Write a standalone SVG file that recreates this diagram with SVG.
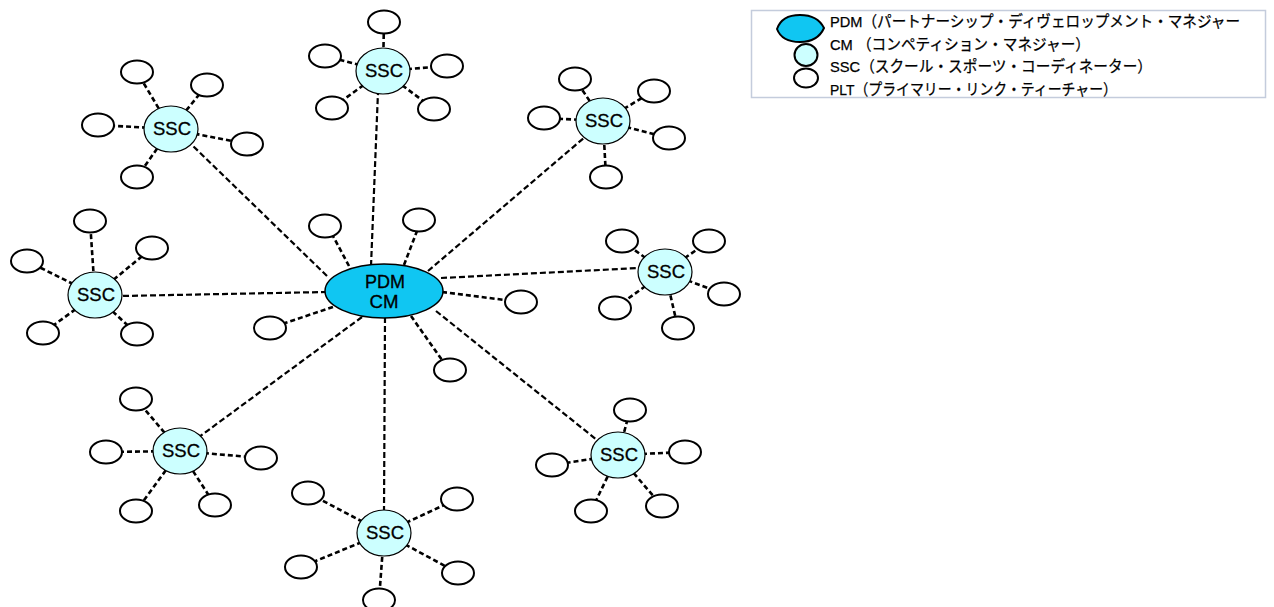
<svg xmlns="http://www.w3.org/2000/svg" width="1274" height="607" viewBox="0 0 1274 607">
<style>
.bg{fill:#ffffff}
.main{stroke:#000;stroke-width:2.2;stroke-dasharray:6 3;fill:none}
.sub{stroke:#000;stroke-width:2.6;stroke-dasharray:5 3;fill:none}
.pdm{fill:#10c6f2;stroke:#000;stroke-width:1.5}
.ssc{fill:#ccffff;stroke:#000;stroke-width:1.2}
.plt{fill:#ffffff;stroke:#000;stroke-width:2}
.lbl{font-family:"Liberation Sans",Arial,sans-serif;font-size:18px;fill:#000;stroke:#000;stroke-width:0.3;text-anchor:middle}
.leg{font-family:"Liberation Sans","Noto Sans CJK JP",sans-serif;font-size:15.5px;fill:#000;stroke:#000;stroke-width:0.25}
</style>
<rect class="bg" x="0" y="0" width="1274" height="607"/>
<g id="connectors">
  <line class="main" x1="371" y1="266" x2="378" y2="92"/>
  <line class="main" x1="327" y1="276" x2="192" y2="145"/>
  <line class="main" x1="428" y1="271" x2="585" y2="137"/>
  <line class="main" x1="327" y1="292" x2="121" y2="296"/>
  <line class="main" x1="441" y1="278" x2="639" y2="268"/>
  <line class="main" x1="362" y1="317" x2="199" y2="437"/>
  <line class="main" x1="436" y1="311" x2="597" y2="440"/>
  <line class="main" x1="385" y1="317" x2="384" y2="511"/>
  <line class="sub" x1="349" y1="266" x2="333" y2="236"/>
  <line class="sub" x1="404" y1="265" x2="417" y2="231"/>
  <line class="sub" x1="442" y1="292" x2="505" y2="300"/>
  <line class="sub" x1="411" y1="316" x2="442" y2="360"/>
  <line class="sub" x1="333" y1="307" x2="285" y2="323"/>
  <path class="sub" d="M383 71L384 22M383 71L325 56M383 71L447 66M383 71L332 108M383 71L434 109"/>
  <path class="sub" d="M171 129L137 72M171 129L207 85M171 129L98 125M171 129L247 144M171 129L137 177"/>
  <path class="sub" d="M603 121L575 79M603 121L654 91M603 121L544 118M603 121L669 138M603 121L606 177"/>
  <path class="sub" d="M95 295L90 221M95 295L27 261M95 295L152 248M95 295L43 333M95 295L137 334"/>
  <path class="sub" d="M665 272L622 241M665 272L709 241M665 272L615 308M665 272L724 294M665 272L678 328"/>
  <path class="sub" d="M180 451L136 399M180 451L106 452M180 451L261 458M180 451L136 511M180 451L215 505"/>
  <path class="sub" d="M618 455L630 410M618 455L552 465M618 455L685 452M618 455L591 511M618 455L662 506"/>
  <path class="sub" d="M384 533L308 493M384 533L457 499M384 533L301 567M384 533L458 573M384 533L379 600"/>
</g>
<g id="pdm">
  <ellipse class="pdm" cx="384" cy="291" rx="59" ry="27"/>
  <text class="lbl" x="385" y="288" textLength="40" lengthAdjust="spacingAndGlyphs">PDM</text>
  <text class="lbl" x="384" y="308" textLength="29" lengthAdjust="spacingAndGlyphs">CM</text>
</g>
<g id="pdm-plts">
  <ellipse class="plt" cx="325" cy="226" rx="16" ry="11.5"/>
  <ellipse class="plt" cx="419" cy="220" rx="16" ry="11.5"/>
  <ellipse class="plt" cx="521" cy="302" rx="16" ry="11.5"/>
  <ellipse class="plt" cx="450" cy="370" rx="16" ry="11.5"/>
  <ellipse class="plt" cx="270" cy="328" rx="16" ry="11.5"/>
</g>
<g id="ssc-top">
  <ellipse class="ssc" cx="383" cy="71" rx="27" ry="23"/>
  <text class="lbl" x="384" y="77" textLength="38" lengthAdjust="spacingAndGlyphs">SSC</text>
  <ellipse class="plt" cx="384" cy="22" rx="16" ry="11.5"/>
  <ellipse class="plt" cx="325" cy="56" rx="16" ry="11.5"/>
  <ellipse class="plt" cx="447" cy="66" rx="16" ry="11.5"/>
  <ellipse class="plt" cx="332" cy="108" rx="16" ry="11.5"/>
  <ellipse class="plt" cx="434" cy="109" rx="16" ry="11.5"/>
</g>
<g id="ssc-topleft">
  <ellipse class="ssc" cx="171" cy="129" rx="27" ry="23"/>
  <text class="lbl" x="172" y="135" textLength="38" lengthAdjust="spacingAndGlyphs">SSC</text>
  <ellipse class="plt" cx="137" cy="72" rx="16" ry="11.5"/>
  <ellipse class="plt" cx="207" cy="85" rx="16" ry="11.5"/>
  <ellipse class="plt" cx="98" cy="125" rx="16" ry="11.5"/>
  <ellipse class="plt" cx="247" cy="144" rx="16" ry="11.5"/>
  <ellipse class="plt" cx="137" cy="177" rx="16" ry="11.5"/>
</g>
<g id="ssc-topright">
  <ellipse class="ssc" cx="603" cy="121" rx="27" ry="23"/>
  <text class="lbl" x="604" y="127" textLength="38" lengthAdjust="spacingAndGlyphs">SSC</text>
  <ellipse class="plt" cx="575" cy="79" rx="16" ry="11.5"/>
  <ellipse class="plt" cx="654" cy="91" rx="16" ry="11.5"/>
  <ellipse class="plt" cx="544" cy="118" rx="16" ry="11.5"/>
  <ellipse class="plt" cx="669" cy="138" rx="16" ry="11.5"/>
  <ellipse class="plt" cx="606" cy="177" rx="16" ry="11.5"/>
</g>
<g id="ssc-left">
  <ellipse class="ssc" cx="95" cy="295" rx="27" ry="23"/>
  <text class="lbl" x="96" y="301" textLength="38" lengthAdjust="spacingAndGlyphs">SSC</text>
  <ellipse class="plt" cx="90" cy="221" rx="16" ry="11.5"/>
  <ellipse class="plt" cx="27" cy="261" rx="16" ry="11.5"/>
  <ellipse class="plt" cx="152" cy="248" rx="16" ry="11.5"/>
  <ellipse class="plt" cx="43" cy="333" rx="16" ry="11.5"/>
  <ellipse class="plt" cx="137" cy="334" rx="16" ry="11.5"/>
</g>
<g id="ssc-right">
  <ellipse class="ssc" cx="665" cy="272" rx="27" ry="23"/>
  <text class="lbl" x="666" y="278" textLength="38" lengthAdjust="spacingAndGlyphs">SSC</text>
  <ellipse class="plt" cx="622" cy="241" rx="16" ry="11.5"/>
  <ellipse class="plt" cx="709" cy="241" rx="16" ry="11.5"/>
  <ellipse class="plt" cx="615" cy="308" rx="16" ry="11.5"/>
  <ellipse class="plt" cx="724" cy="294" rx="16" ry="11.5"/>
  <ellipse class="plt" cx="678" cy="328" rx="16" ry="11.5"/>
</g>
<g id="ssc-bottomleft">
  <ellipse class="ssc" cx="180" cy="451" rx="27" ry="23"/>
  <text class="lbl" x="181" y="457" textLength="38" lengthAdjust="spacingAndGlyphs">SSC</text>
  <ellipse class="plt" cx="136" cy="399" rx="16" ry="11.5"/>
  <ellipse class="plt" cx="106" cy="452" rx="16" ry="11.5"/>
  <ellipse class="plt" cx="261" cy="458" rx="16" ry="11.5"/>
  <ellipse class="plt" cx="136" cy="511" rx="16" ry="11.5"/>
  <ellipse class="plt" cx="215" cy="505" rx="16" ry="11.5"/>
</g>
<g id="ssc-bottomright">
  <ellipse class="ssc" cx="618" cy="455" rx="27" ry="23"/>
  <text class="lbl" x="619" y="461" textLength="38" lengthAdjust="spacingAndGlyphs">SSC</text>
  <ellipse class="plt" cx="630" cy="410" rx="16" ry="11.5"/>
  <ellipse class="plt" cx="552" cy="465" rx="16" ry="11.5"/>
  <ellipse class="plt" cx="685" cy="452" rx="16" ry="11.5"/>
  <ellipse class="plt" cx="591" cy="511" rx="16" ry="11.5"/>
  <ellipse class="plt" cx="662" cy="506" rx="16" ry="11.5"/>
</g>
<g id="ssc-bottom">
  <ellipse class="ssc" cx="384" cy="533" rx="27" ry="23"/>
  <text class="lbl" x="385" y="539" textLength="38" lengthAdjust="spacingAndGlyphs">SSC</text>
  <ellipse class="plt" cx="308" cy="493" rx="16" ry="11.5"/>
  <ellipse class="plt" cx="457" cy="499" rx="16" ry="11.5"/>
  <ellipse class="plt" cx="301" cy="567" rx="16" ry="11.5"/>
  <ellipse class="plt" cx="458" cy="573" rx="16" ry="11.5"/>
  <ellipse class="plt" cx="379" cy="600" rx="16" ry="11.5"/>
</g>
<g id="legend">
  <rect x="751.5" y="10.5" width="514" height="87" fill="#fff" stroke="#c4ccdc" stroke-width="1.5"/>
  <path d="M777 29C780 20 788 15 800 15C812 15 820 20 824 28C820 37 812 42 800 42C788 42 780 37 777 29Z" fill="#10c6f2" stroke="#000" stroke-width="2"/>
  <ellipse cx="806" cy="55" rx="11.5" ry="11" fill="#ccffff" stroke="#000" stroke-width="2"/>
  <ellipse cx="806" cy="78" rx="12" ry="9.5" fill="#fff" stroke="#000" stroke-width="2"/>
  <text class="leg" x="830" y="27" textLength="410" lengthAdjust="spacingAndGlyphs">PDM（パートナーシップ・ディヴェロップメント・マネジャー</text>
  <text class="leg" x="830" y="50" textLength="260" lengthAdjust="spacingAndGlyphs">CM （コンペティション・マネジャー）</text>
  <text class="leg" x="830" y="72" textLength="322" lengthAdjust="spacingAndGlyphs">SSC（スクール・スポーツ・コーディネーター）</text>
  <text class="leg" x="830" y="95" textLength="287" lengthAdjust="spacingAndGlyphs">PLT（プライマリー・リンク・ティーチャー）</text>
</g>
</svg>
